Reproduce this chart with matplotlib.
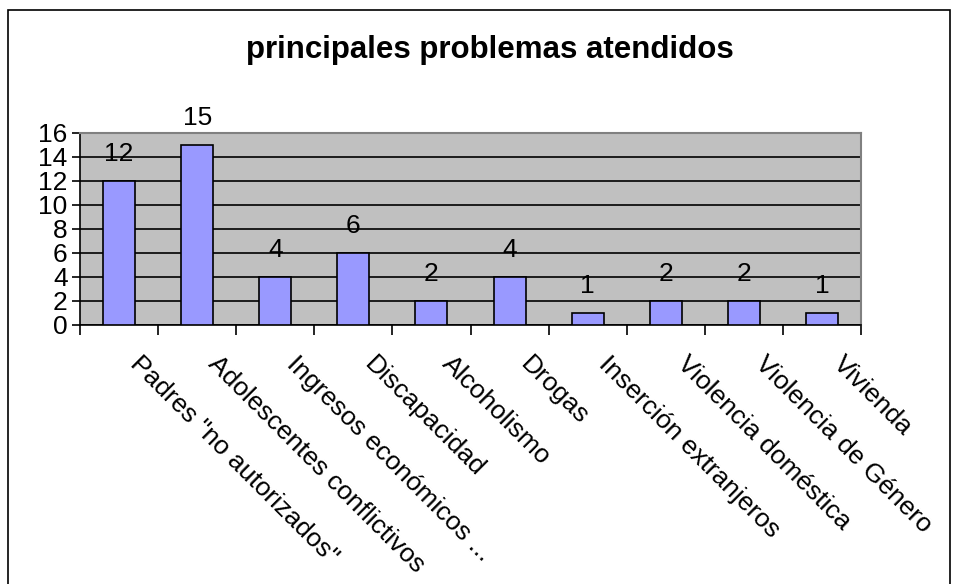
import numpy as np
import matplotlib
matplotlib.use("Agg")
import matplotlib.pyplot as plt
import matplotlib.transforms as mtransforms
from matplotlib.patches import Rectangle

plt.rcParams['font.family'] = ['Liberation Sans', 'DejaVu Sans']

categorias = ['Padres "no autorizados"', 'Adolescentes conflictivos', 'Ingresos económicos ...',
              'Discapacidad', 'Alcoholismo', 'Drogas', 'Inserción extranjeros',
              'Violencia doméstica', 'Violencia de Género', 'Vivienda']
valores = [12, 15, 4, 6, 2, 4, 1, 2, 2, 1]
yticks = [0, 2, 4, 6, 8, 10, 12, 14, 16]
titulo = 'principales problemas atendidos'

fig = plt.figure(figsize=(9.55, 5.84), dpi=100)
W, H = 955, 584
ax = fig.add_axes([80 / W, 1 - 325 / H, (861 - 80) / W, (325 - 133) / H])

# marco del grafico
fig.patches.append(Rectangle((8 / W, -0.01), (950 - 8) / W, 1 - 10 / H + 0.01,
                             transform=fig.transFigure, fill=False,
                             edgecolor='black', linewidth=1.2))

x = np.arange(len(valores))
ax.set_facecolor('#C0C0C0')
ax.set_axisbelow(True)
ax.yaxis.grid(True, color='black', linewidth=1.2)
ax.bar(x, valores, width=0.41, color='#9999FF', edgecolor='black', linewidth=1.2, zorder=3)

for xi, v in zip(x, valores):
    ax.annotate(str(v), (xi, v), xytext=(0, 11), textcoords='offset points',
                ha='center', va='bottom', fontsize=19)

ax.set_xlim(-0.5, len(valores) - 0.5)
ax.set_ylim(0, 16)
ax.set_yticks(yticks)
ax.tick_params(axis='y', labelsize=19, length=6, width=1.2, pad=3, direction='out')

ax.set_xticks([])
ax.set_xticks(np.arange(-0.5, len(valores)), minor=True)
ax.tick_params(axis='x', which='minor', length=7, width=1.2, direction='out')

for s in ['left', 'bottom']:
    ax.spines[s].set_color('black')
    ax.spines[s].set_linewidth(1.2)
for s in ['top', 'right']:
    ax.spines[s].set_color('#808080')
    ax.spines[s].set_linewidth(1.5)

trans = mtransforms.blended_transform_factory(ax.transData, ax.transAxes)
for xi, lab in zip(x, categorias):
    ax.text(xi + 0.3, -0.14, lab, transform=trans, rotation=-45,
            rotation_mode='anchor', ha='left', va='top', fontsize=19)

fig.text(490 / W, 1 - 50 / H, titulo, ha='center', va='center',
         fontsize=22.5, fontweight='bold')

fig.savefig('out.png', dpi=100)
